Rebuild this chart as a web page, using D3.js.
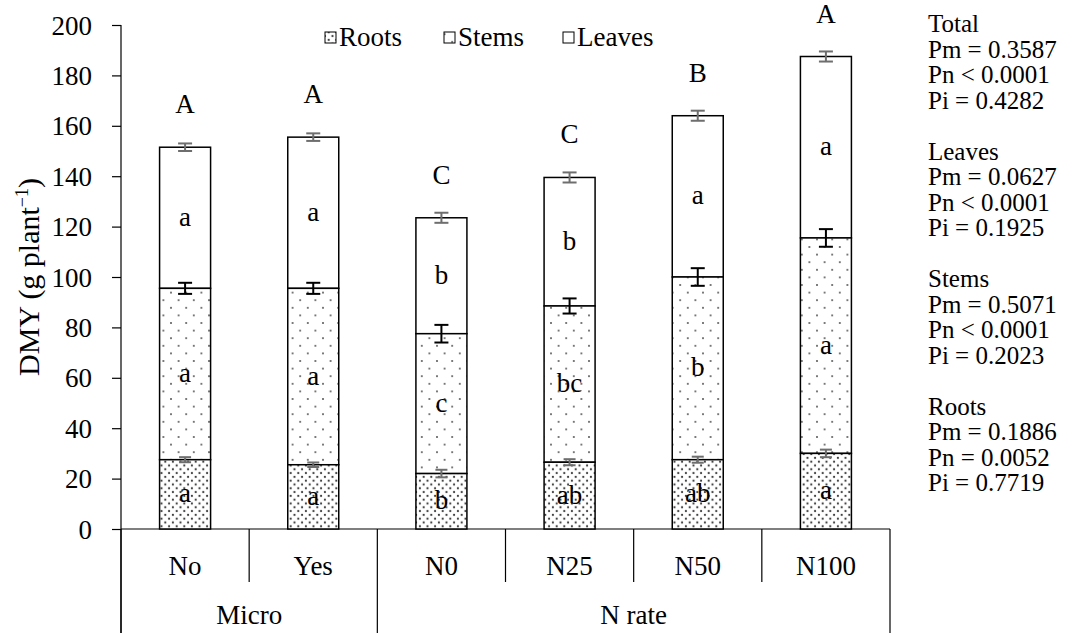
<!DOCTYPE html>
<html lang="en">
<head>
<meta charset="UTF-8">
<title>DMY stacked bars</title>
<script src="https://cdnjs.cloudflare.com/ajax/libs/d3/7.8.5/d3.min.js"></script>
<style>
  body { margin: 0; background: #fff; }
  svg text { font-family: "Liberation Serif", "Times New Roman", serif; fill: #000; }
</style>
</head>
<body>
<div id="chart"></div>
<script>
// data
const categories = ["No", "Yes", "N0", "N25", "N50", "N100"];
const groups = [
  { name: "Micro", members: ["No", "Yes"] },
  { name: "N rate", members: ["N0", "N25", "N50", "N100"] }
];
const roots = [27.5, 25.5, 22, 26.5, 27.5, 30];
const stems = [68, 70, 55.5, 62, 72.5, 85.5];
const leaves = [56, 60, 46, 51, 64, 72];
const rootsErr = [1, 0.9, 1.5, 1.2, 1.2, 1.5];
const stemsErr = [2.2, 2.2, 3.5, 3, 3.5, 3.5];
const totalErr = [1.5, 1.5, 2, 2, 2, 2];
const rootsLetters = ["a", "a", "b", "ab", "ab", "a"];
const stemsLetters = ["a", "a", "c", "bc", "b", "a"];
const leavesLetters = ["a", "a", "b", "b", "a", "a"];
const totalLetters = ["A", "A", "C", "C", "B", "A"];
const yTicks = [0, 20, 40, 60, 80, 100, 120, 140, 160, 180, 200];
const statsText = [
  "Total", "Pm = 0.3587", "Pn < 0.0001", "Pi = 0.4282", "",
  "Leaves", "Pm = 0.0627", "Pn < 0.0001", "Pi = 0.1925", "",
  "Stems", "Pm = 0.5071", "Pn < 0.0001", "Pi = 0.2023", "",
  "Roots", "Pm = 0.1886", "Pn = 0.0052", "Pi = 0.7719"
];

const W = 1077, H = 633;
const FS = 27;
const svg = d3.select("#chart").append("svg")
  .attr("width", W).attr("height", H);

// fill patterns
const defs = svg.append("defs");
const pRoots = defs.append("pattern").attr("id", "pat-roots")
  .attr("patternUnits", "userSpaceOnUse").attr("width", 7.6).attr("height", 7.6);
pRoots.append("rect").attr("width", 7.6).attr("height", 7.6).attr("fill", "#fff");
pRoots.append("circle").attr("cx", 1.9).attr("cy", 1.9).attr("r", 1.1).attr("fill", "#3a3a3a");
pRoots.append("circle").attr("cx", 5.7).attr("cy", 5.7).attr("r", 1.1).attr("fill", "#3a3a3a");

const pStems = defs.append("pattern").attr("id", "pat-stems")
  .attr("patternUnits", "userSpaceOnUse").attr("width", 15.2).attr("height", 15.2);
pStems.append("rect").attr("width", 15.2).attr("height", 15.2).attr("fill", "#fff");
pStems.append("circle").attr("cx", 3.8).attr("cy", 3.8).attr("r", 1).attr("fill", "#555");
pStems.append("circle").attr("cx", 11.4).attr("cy", 11.4).attr("r", 1).attr("fill", "#555");

const x = d3.scaleBand().domain(categories).range([121, 890]).padding(0);
const y = d3.scaleLinear().domain([0, 200]).range([529, 25]);
const barW = 51;

// y axis
const yAxis = svg.append("g")
  .attr("transform", "translate(121,0)")
  .call(d3.axisLeft(y).tickValues(yTicks).tickSize(9).tickPadding(20));
yAxis.select(".domain").remove();
yAxis.selectAll(".tick line").attr("stroke", "#000").attr("stroke-width", 1.2);
yAxis.selectAll(".tick text").attr("font-size", FS).attr("dy", "0.34em");

svg.append("line").attr("x1", 121).attr("x2", 121).attr("y1", 25).attr("y2", 633)
  .attr("stroke", "#000").attr("stroke-width", 1.2);
svg.append("line").attr("x1", 121).attr("x2", 890).attr("y1", y(0)).attr("y2", y(0))
  .attr("stroke", "#000").attr("stroke-width", 1.2);

// category separators
const bounds = categories.map(c => x(c)).concat([x.range()[1]]);
const groupEdges = [x(groups[0].members[0])];
groups.forEach(g => {
  const last = g.members[g.members.length - 1];
  groupEdges.push(x(last) + x.bandwidth());
});
bounds.forEach(b => {
  const isGroup = groupEdges.some(e => Math.abs(e - b) < 0.5);
  svg.append("line").attr("x1", b).attr("x2", b)
    .attr("y1", y(0)).attr("y2", isGroup ? 633 : 582)
    .attr("stroke", "#000").attr("stroke-width", 1.2);
});

svg.append("g").selectAll("text").data(categories).join("text")
  .attr("x", d => x(d) + x.bandwidth() / 2).attr("y", 575)
  .attr("text-anchor", "middle").attr("font-size", FS).text(d => d);

svg.append("g").selectAll("text").data(groups).join("text")
  .attr("x", d => (x(d.members[0]) + x(d.members[d.members.length - 1]) + x.bandwidth()) / 2)
  .attr("y", 624).attr("text-anchor", "middle").attr("font-size", FS).text(d => d.name);

// y title
svg.append("text")
  .attr("transform", "translate(39," + y(100) + ") rotate(-90)")
  .attr("text-anchor", "middle").attr("font-size", 30)
  .call(t => {
    t.append("tspan").text("DMY (g plant");
    t.append("tspan").attr("font-size", 18).attr("dy", -11).text("\u22121");
    t.append("tspan").attr("dy", 11).text(")");
  });

// bars
const rows = categories.map((c, i) => ({
  c, i,
  r: roots[i], s: stems[i], l: leaves[i],
  rs: roots[i] + stems[i],
  tot: roots[i] + stems[i] + leaves[i]
}));
const bars = svg.append("g");
const cx = d => x(d.c) + x.bandwidth() / 2;

bars.selectAll(".seg-l").data(rows).join("rect")
  .attr("x", d => cx(d) - barW / 2).attr("width", barW)
  .attr("y", d => y(d.tot)).attr("height", d => y(d.rs) - y(d.tot))
  .attr("fill", "#fff").attr("stroke", "#000").attr("stroke-width", 1.5);
bars.selectAll(".seg-s").data(rows).join("rect")
  .attr("x", d => cx(d) - barW / 2).attr("width", barW)
  .attr("y", d => y(d.rs)).attr("height", d => y(d.r) - y(d.rs))
  .attr("fill", "url(#pat-stems)").attr("stroke", "#000").attr("stroke-width", 1.5);
bars.selectAll(".seg-r").data(rows).join("rect")
  .attr("x", d => cx(d) - barW / 2).attr("width", barW)
  .attr("y", d => y(d.r)).attr("height", d => y(0) - y(d.r))
  .attr("fill", "url(#pat-roots)").attr("stroke", "#000").attr("stroke-width", 1.5);

// error bars
function errBars(vals, errs, color, cap) {
  const g = svg.append("g").attr("stroke", color).attr("stroke-width", 2);
  rows.forEach((d, i) => {
    const v = vals(d), e = errs[i], xc = cx(d);
    g.append("line").attr("x1", xc).attr("x2", xc).attr("y1", y(v - e)).attr("y2", y(v + e));
    g.append("line").attr("x1", xc - cap).attr("x2", xc + cap).attr("y1", y(v - e)).attr("y2", y(v - e));
    g.append("line").attr("x1", xc - cap).attr("x2", xc + cap).attr("y1", y(v + e)).attr("y2", y(v + e));
  });
}
errBars(d => d.r, rootsErr, "#6e6e6e", 6);
errBars(d => d.rs, stemsErr, "#000", 7);
errBars(d => d.tot, totalErr, "#6e6e6e", 7);

// letters
const letters = svg.append("g").attr("text-anchor", "middle").attr("font-size", FS);
rows.forEach((d, i) => {
  letters.append("text").attr("x", cx(d)).attr("y", y(d.r / 2) + 8).text(rootsLetters[i]);
  letters.append("text").attr("x", cx(d)).attr("y", y(d.r + d.s / 2) + 8).text(stemsLetters[i]);
  letters.append("text").attr("x", cx(d)).attr("y", y(d.rs + d.l / 2) + 8).text(leavesLetters[i]);
  letters.append("text").attr("x", cx(d)).attr("y", y(d.tot) - 34).text(totalLetters[i]);
});

// legend
const legendItems = [
  { name: "Roots", fill: "url(#pat-roots)", x: 325 },
  { name: "Stems", fill: "url(#pat-stems)", x: 444 },
  { name: "Leaves", fill: "#fff", x: 563 }
];
const lg = svg.append("g");
legendItems.forEach(it => {
  lg.append("rect").attr("x", it.x).attr("y", 32).attr("width", 11).attr("height", 11)
    .attr("fill", it.fill).attr("stroke", "#000").attr("stroke-width", 1);
  lg.append("text").attr("x", it.x + 14).attr("y", 46).attr("font-size", FS).text(it.name);
});

// stats text on the right
svg.append("g").selectAll("text").data(statsText).join("text")
  .attr("x", 928).attr("y", (d, i) => 32 + i * 25.5)
  .attr("font-size", 25).text(d => d);
</script>
</body>
</html>
